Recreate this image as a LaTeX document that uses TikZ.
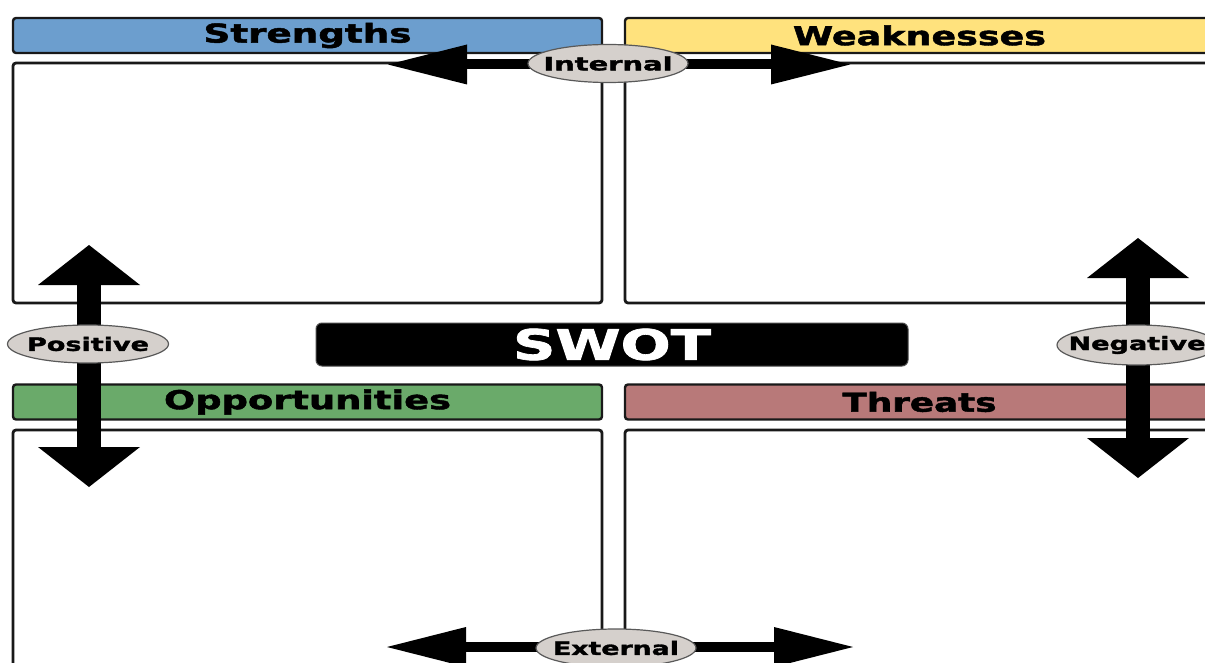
\documentclass[tikz,border=0pt]{standalone}
\usepackage{fontspec}
\usetikzlibrary{arrows.meta,shapes.geometric}
\newfontfamily\labelfont{DejaVu Sans}[BoldFeatures={FakeBold=1.6}]
% stretch a label horizontally to a given width, keeping its height
\newcommand{\widthto}[2]{\resizebox{#1}{\height}{#2}}
% a label that does not widen its ellipse
\newcommand{\tagtext}[2]{\makebox[0pt]{\widthto{#1}{#2}}}
\definecolor{sblue}{RGB}{108,158,206}
\definecolor{wyellow}{RGB}{255,226,125}
\definecolor{ogreen}{RGB}{106,170,106}
\definecolor{tred}{RGB}{184,121,121}
\definecolor{tagfill}{RGB}{213,208,204}
\definecolor{edge}{RGB}{25,25,25}
\begin{document}
\begin{tikzpicture}[x=1pt,y=-1pt,
  panel/.style={draw=edge, line width=2.8pt, rounded corners=3pt, fill=white,
    minimum width=589pt, minimum height=240pt, inner sep=0pt},
  header/.style={draw=edge, line width=2.4pt, rounded corners=3pt,
    minimum width=589pt, minimum height=35pt, inner sep=0pt,
    font=\labelfont\bfseries\fontsize{26}{30}\selectfont},
  tag/.style={ellipse, draw=black!65, line width=1.2pt, fill=tagfill,
    minimum width=160pt, minimum height=38pt, inner sep=0pt,
    font=\labelfont\bfseries\fontsize{18.5}{22}\selectfont},
  hbar/.style={line width=10pt,
    {Triangle[length=79pt 0 0,width=40pt 0 0,line width=0pt]}-{Triangle[length=79pt 0 0,width=40pt 0 0,line width=0pt]}},
  vbar/.style={line width=24pt,
    {Triangle[length=40pt 0 0,width=102pt 0 0,line width=0pt]}-{Triangle[length=40pt 0 0,width=102pt 0 0,line width=0pt]}}]
\clip (0,0) rectangle (1205,663);
\fill[white] (0,0) rectangle (1205,663);

% quadrant bodies
\node[panel] (sB) at (307.5,183) {};
\node[panel] (wB) at (919.5,183) {};
\node[panel] (oB) at (307.5,550) {};
\node[panel] (tB) at (919.5,550) {};

% quadrant headers
\node[header, fill=sblue]   (sH) at (307.5,35.5) {\widthto{208pt}{Strengths}};
\node[header, fill=wyellow] (wH) at (919.5,35.5) {\widthto{253pt}{Weaknesses}};
\node[header, fill=ogreen]  (oH) at (307.5,402)  {\widthto{287pt}{Opportunities}};
\node[header, fill=tred]    (tH) at (919.5,402)  {\widthto{154pt}{Threats}};

% arrow end points
\coordinate (inL) at (388,64.5);
\coordinate (inR) at (850,64.5);
\coordinate (exL) at (387,647);
\coordinate (exR) at (853,647);
\coordinate (poT) at (89,245);
\coordinate (poB) at (89,487);
\coordinate (neT) at (1138,238);
\coordinate (neB) at (1138,478);

% double-headed axes
\draw[hbar] (inL) -- (inR);
\draw[hbar] (exL) -- (exR);
\draw[vbar] (poT) -- (poB);
\draw[vbar] (neT) -- (neB);

% axis labels
\node[tag] (internal) at (608,63.5) {\tagtext{129pt}{Internal}};
\node[tag] (external) at (616,648)  {\tagtext{126pt}{External}};
\node[tag, minimum width=161pt] (positive) at (88,344)   {\tagtext{122pt}{Positive}};
\node[tag, minimum height=40pt] (negative) at (1137,345) {\tagtext{137pt}{Negative}};

% title bar
\node[fill=black, draw=black!70, line width=1pt, rounded corners=6pt,
  minimum width=592pt, minimum height=43pt, inner sep=0pt, text=white,
  font=\labelfont\bfseries\fontsize{42}{46}\selectfont]
  (swot) at (612,344.5) {\widthto{198pt}{SWOT}};
\end{tikzpicture}
\end{document}
